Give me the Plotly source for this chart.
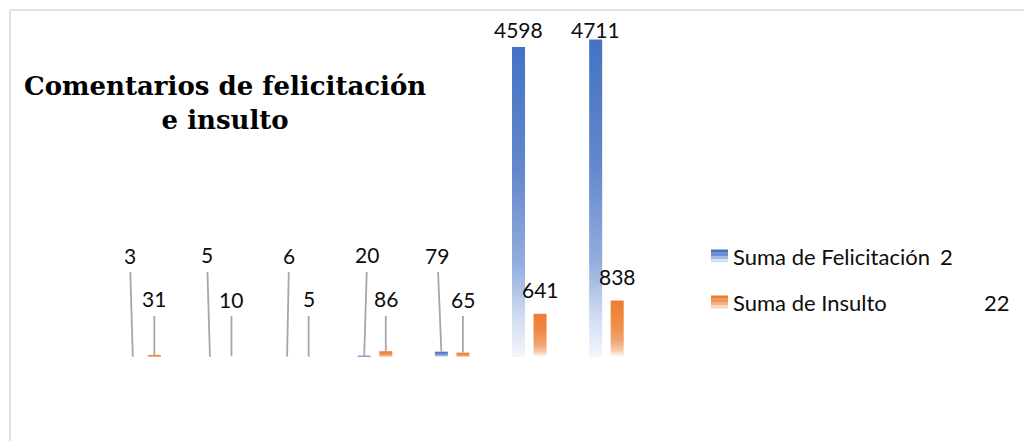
import plotly.graph_objects as go

# ---------------- data ----------------
grupos = ["G1", "G2", "G3", "G4", "G5", "G6", "G7"]
felicitacion = [3, 5, 6, 20, 79, 4598, 4711]
insulto = [31, 10, 5, 86, 65, 641, 838]
serie_nombres = ["Suma de Felicitación", "Suma de Insulto"]
serie_extra = ["2", "22"]
titulo = "Comentarios de felicitación<br>e insulto"

# ---------------- layout constants ----------------
W, H = 1024, 441
ML, MR, MT, MB = 105, 379, 20, 84
PW, PH = W - ML - MR, H - MT - MB
YMAX = 5000
BLUE, ORANGE = "#4472C4", "#ED7D31"
LEADER = "#A6A6A6"
TXT = "#0d0d0d"
LABEL_FONT = dict(family="Lato", size=21, color=TXT)

blue_scale = [[0, "#F3F6FC"], [0.12, "#D3DEF2"], [0.3, "#93ADDD"], [0.6, "#6388CC"], [1, BLUE]]
orange_scale = [[0, "#FFFFFF"], [0.12, "#F8C9A8"], [0.3, "#F2A36E"], [0.6, "#EF8A45"], [1, ORANGE]]

series = [
    dict(vals=felicitacion, color=BLUE, scale=blue_scale, off=-0.1396,
         fixed=255, gap=18, dx=[-3, -3, 2, 3, -4, 0, 0]),
    dict(vals=insulto, color=ORANGE, scale=orange_scale, off=0.1396,
         fixed=299, gap=24, dx=[0, 0, 0, 0, 0, 0, 0]),
]
HW = 0.0844  # half bar width in category units


def px_x(px):
    return (px - ML) / PW


def px_y(py):
    return (H - MB - py) / PH


def val_to_py(v):
    return (H - MB) - v / YMAX * PH


fig = go.Figure()
annotations = []

for s in series:
    for i, v in enumerate(s["vals"]):
        xc = i + s["off"]
        x0, x1 = xc - HW, xc + HW
        fig.add_trace(go.Scatter(
            x=[x0, x1, x1, x0, x0], y=[0, 0, v, v, 0],
            mode="lines", fill="toself", line=dict(width=0, color=s["color"]),
            fillgradient=dict(type="vertical", colorscale=s["scale"]),
            showlegend=False, hoverinfo="skip",
        ))
        top = val_to_py(v)
        if top - s["gap"] > s["fixed"]:
            ly, leader = s["fixed"], True
        else:
            ly, leader = max(29, top - s["gap"]), False
        annotations.append(dict(
            x=xc, y=v, xref="x", yref="y", text=str(v), font=LABEL_FONT,
            showarrow=True, arrowhead=0, arrowwidth=1.8,
            arrowcolor=LEADER if leader else "rgba(0,0,0,0)",
            ax=s["dx"][i], ay=ly - top, borderpad=4, standoff=0,
        ))

# title
annotations.append(dict(
    x=px_x(225), y=px_y(103), xref="paper", yref="paper", text=titulo,
    showarrow=False, xanchor="center", yanchor="middle", align="center",
    font=dict(family="DejaVu Serif", size=26, color="#000000", weight="bold"),
))

# legend (manual)
legend_rows = [(["#4472C4", "#6E90D0", "#A3B8E3", "#D6E0F3"], 256, 946),
               (["#ED7D31", "#F09458", "#F4B186", "#F9D6BE"], 302, 997)]
shapes = []
for k, (bands, cy, xnum) in enumerate(legend_rows):
    y0 = cy - 6.5
    bh = 13 / len(bands)
    for b, bc in enumerate(bands):
        shapes.append(dict(type="rect", xref="paper", yref="paper",
                           x0=px_x(711), x1=px_x(728),
                           y0=px_y(y0 + b * bh), y1=px_y(y0 + (b + 1) * bh),
                           fillcolor=bc, line=dict(width=0), layer="above"))
    annotations.append(dict(x=px_x(731), y=px_y(cy), xref="paper", yref="paper",
                            text=serie_nombres[k], showarrow=False, xanchor="left",
                            yanchor="middle", font=dict(family="Lato", size=22, color=TXT)))
    annotations.append(dict(x=px_x(xnum), y=px_y(cy), xref="paper", yref="paper",
                            text=serie_extra[k], showarrow=False, xanchor="center",
                            yanchor="middle", font=dict(family="Lato", size=22, color=TXT)))

# chart frame (top and left edges visible)
shapes.append(dict(type="line", xref="paper", yref="paper",
                   x0=px_x(10), x1=px_x(1030), y0=px_y(10), y1=px_y(10),
                   line=dict(color="#D9D9D9", width=1.5)))
shapes.append(dict(type="line", xref="paper", yref="paper",
                   x0=px_x(10), x1=px_x(10), y0=px_y(10), y1=px_y(445),
                   line=dict(color="#D9D9D9", width=1.5)))

fig.update_layout(
    width=W, height=H, margin=dict(l=ML, r=MR, t=MT, b=MB, pad=0),
    paper_bgcolor="white", plot_bgcolor="white", showlegend=False,
    xaxis=dict(range=[-0.5, len(grupos) - 0.5], visible=False, fixedrange=True),
    yaxis=dict(range=[0, YMAX], visible=False, fixedrange=True),
    annotations=annotations, shapes=shapes,
)

fig.write_html("out.html", config={"displayModeBar": False})
